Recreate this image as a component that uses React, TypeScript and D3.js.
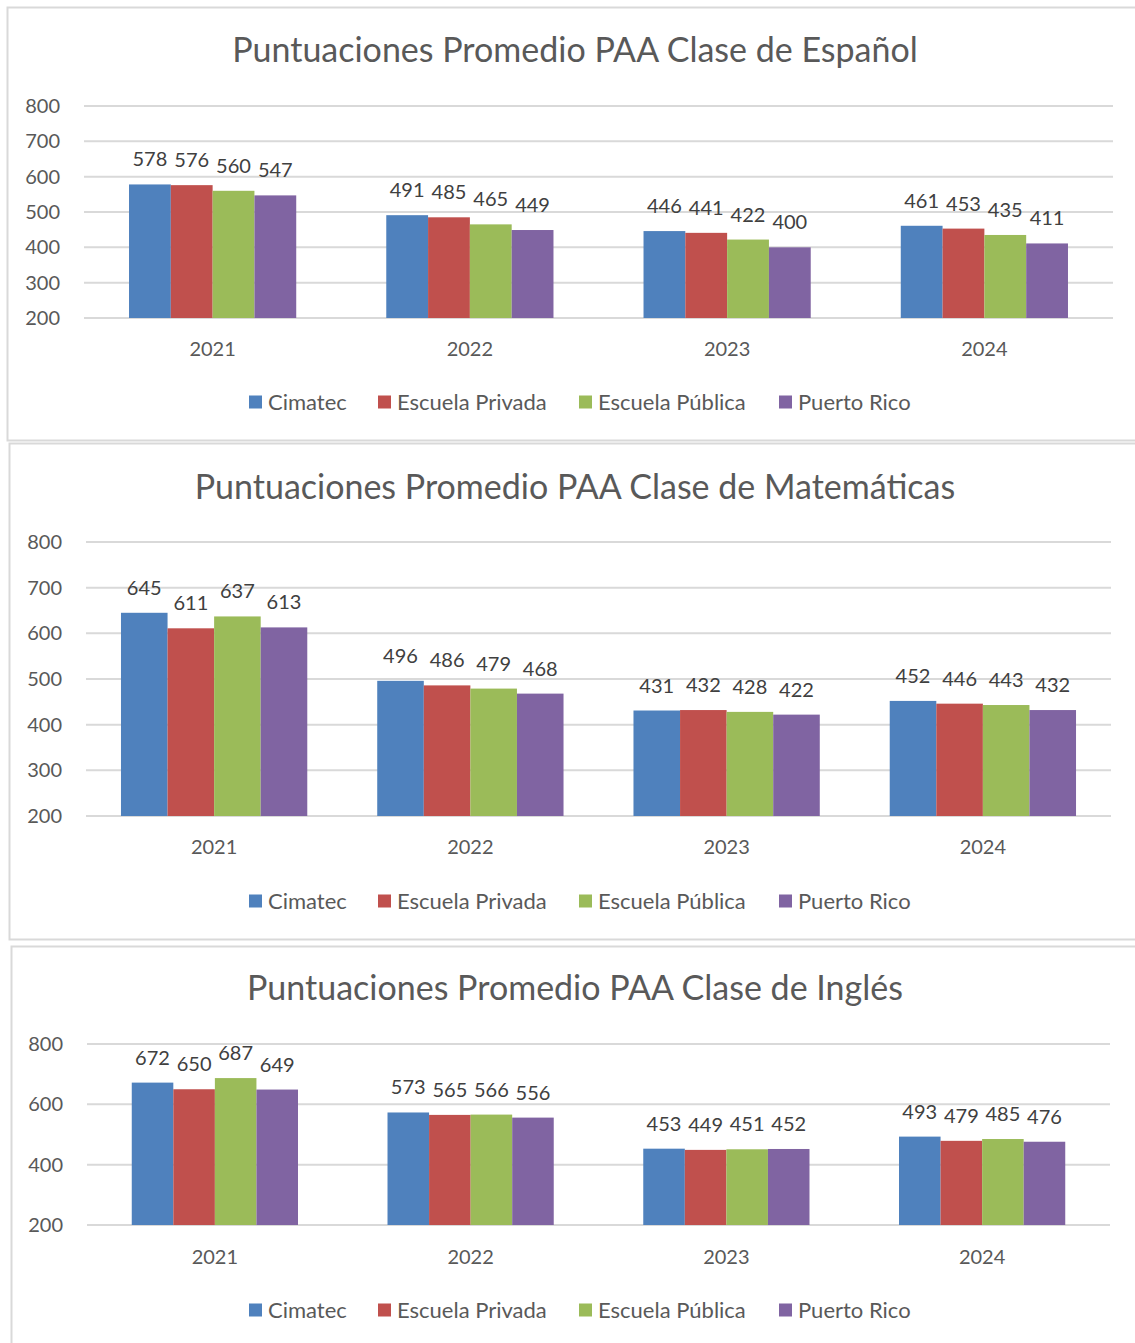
import React from 'react';
import * as d3 from 'd3';

// series + categories shared by the three panels
const years = ['2021', '2022', '2023', '2024'];
const series = ['Cimatec', 'Escuela Privada', 'Escuela Pública', 'Puerto Rico'];
const colors = ['#4F81BD', '#C0504D', '#9BBB59', '#8064A2'];

// values by year, in series order
const espanol = [
  [578, 576, 560, 547],
  [491, 485, 465, 449],
  [446, 441, 422, 400],
  [461, 453, 435, 411],
];
const matematicas = [
  [645, 611, 637, 613],
  [496, 486, 479, 468],
  [431, 432, 428, 422],
  [452, 446, 443, 432],
];
const ingles = [
  [672, 650, 687, 649],
  [573, 565, 566, 556],
  [453, 449, 451, 452],
  [493, 479, 485, 476],
];

const ticksA = [200, 300, 400, 500, 600, 700, 800];
const ticksB = [200, 400, 600, 800];

const FONT = 'Lato, "Noto Sans", sans-serif';
const TEXT = '#595959';
const LABEL = '#404040';
const GRID = '#D9D9D9';

// panel layouts (page px)
const panels = [
  {
    title: 'Puntuaciones Promedio PAA Clase de Español',
    data: espanol, ticks: ticksA,
    box: {x: 7, y: 7, h: 433},
    titleY: 62, top: 106, bottom: 318, left: 84, right: 1113,
    gap: 0.35, yearY: 356, legendY: 402,
  },
  {
    title: 'Puntuaciones Promedio PAA Clase de Matemáticas',
    data: matematicas, ticks: ticksA,
    box: {x: 9, y: 443, h: 496},
    titleY: 499, top: 542, bottom: 816, left: 86, right: 1111,
    gap: 0.273, yearY: 854, legendY: 901,
  },
  {
    title: 'Puntuaciones Promedio PAA Clase de Inglés',
    data: ingles, ticks: ticksB,
    box: {x: 11, y: 946, h: 420},
    titleY: 1000, top: 1044, bottom: 1225, left: 87, right: 1110,
    gap: 0.35, yearY: 1264, legendY: 1310,
  },
];

const legendOffsets = [0, 129, 330, 530];
const legendStart = 249;

function Panel({p}) {
  const y = d3.scaleLinear().domain([200, 800]).range([p.bottom, p.top]);
  const x0 = d3.scaleBand().domain(years).range([p.left, p.right])
    .paddingInner(p.gap).paddingOuter(p.gap / 2);
  const x1 = d3.scaleBand().domain(series).range([0, x0.bandwidth()]).padding(0);

  return (
    <g>
      <rect x={p.box.x + 0.5} y={p.box.y + 0.5} width={1200} height={p.box.h}
        fill="#fff" stroke={GRID} strokeWidth={2} />
      <text x={575} y={p.titleY} textAnchor="middle" fontSize={34} fill={TEXT}
        fontFamily={FONT}>{p.title}</text>

      {p.ticks.map(t => (
        <g key={t}>
          <line x1={p.left} x2={p.right} y1={y(t)} y2={y(t)} stroke={GRID} strokeWidth={2} />
          <text x={p.left - 24} y={y(t) + 7} textAnchor="end" fontSize={20} fill={TEXT}
            fontFamily={FONT}>{t}</text>
        </g>
      ))}

      {years.map((yr, i) => (
        <g key={yr} transform={`translate(${x0(yr)},0)`}>
          {series.map((s, j) => (
            <rect key={s} x={x1(s)} y={y(p.data[i][j])} width={x1.bandwidth()}
              height={p.bottom - y(p.data[i][j])} fill={colors[j]} />
          ))}
          {series.map((s, j) => (
            <text key={s} x={x1(s) + x1.bandwidth() / 2} y={y(p.data[i][j]) - 18}
              textAnchor="middle" fontSize={20} fill={LABEL} fontFamily={FONT}>
              {p.data[i][j]}
            </text>
          ))}
          <text x={x0.bandwidth() / 2} y={p.yearY} textAnchor="middle" fontSize={20}
            fill={TEXT} fontFamily={FONT}>{yr}</text>
        </g>
      ))}

      {series.map((s, j) => (
        <g key={s} transform={`translate(${legendStart + legendOffsets[j]},${p.legendY})`}>
          <rect x={0} y={-6.5} width={13} height={13} fill={colors[j]} />
          <text x={19} y={7.5} fontSize={22} fill={TEXT} fontFamily={FONT}>{s}</text>
        </g>
      ))}
    </g>
  );
}

export default function App() {
  return (
    <div style={{position: 'absolute', left: 0, top: 0}}>
      <svg width={1135} height={1343} style={{display: 'block', background: '#fff'}}>
        {panels.map(p => <Panel key={p.title} p={p} />)}
      </svg>
    </div>
  );
}
